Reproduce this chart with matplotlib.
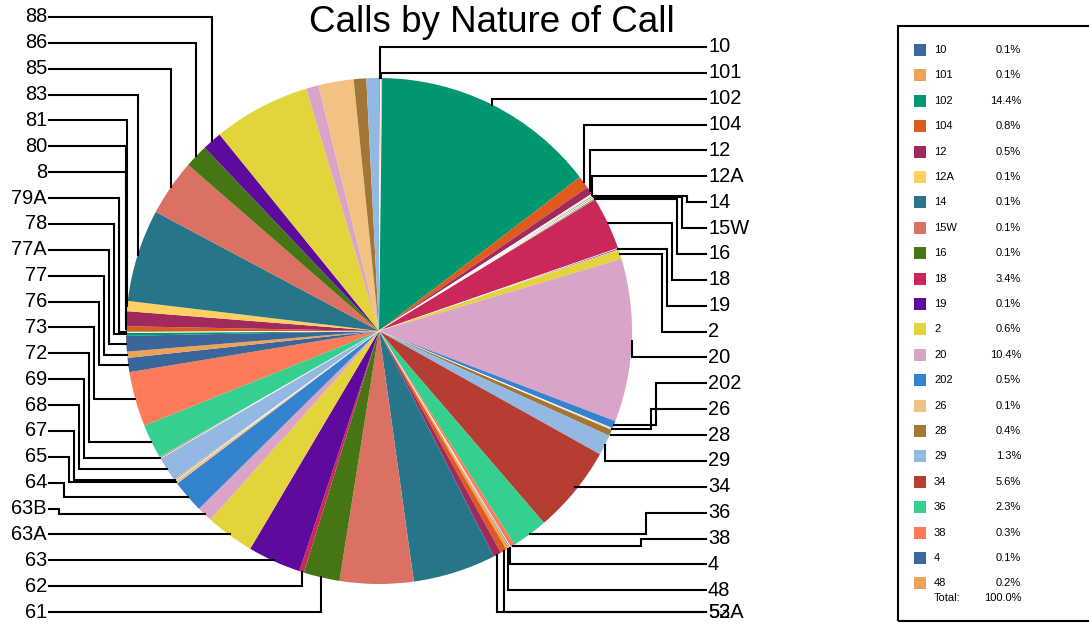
import matplotlib
matplotlib.use("Agg")
import matplotlib.pyplot as plt
import numpy as np
from matplotlib.patches import Rectangle

plt.rcParams['font.family'] = ['Liberation Sans', 'DejaVu Sans']

# ---------------- data ----------------
categories = ["10", "101", "102", "104", "12", "12A", "14", "15W", "16", "18",
              "19", "2", "20", "202", "26", "28", "29", "34", "36", "38",
              "4", "48", "52A", "53", "55", "6",
              "61", "62", "63", "63A", "63B", "64", "65", "67", "68", "69",
              "72", "73", "76", "77", "77A", "78", "79A", "8", "80", "81",
              "83", "85", "86", "88", "89", "9", "90", "91", "96"]
percent = [0.1, 0.1, 14.4, 0.8, 0.5, 0.1, 0.1, 0.1, 0.1, 3.4,
           0.1, 0.6, 10.4, 0.5, 0.1, 0.4, 1.3, 5.6, 2.3, 0.3,
           0.1, 0.2, 0.4, 0.5, 5.3, 4.7,
           2.3, 0.3, 3.4, 3.1, 1.0, 2.1, 0.2, 0.1, 1.6, 0.1,
           2.2, 3.5, 0.9, 0.4, 1.0, 0.2, 0.1, 0.3, 0.95, 0.65,
           5.9, 3.6, 1.5, 1.25, 6.2, 0.8, 2.25, 0.8, 0.8]

right_labels = ["10", "101", "102", "104", "12", "12A", "14", "15W", "16", "18",
                "19", "2", "20", "202", "26", "28", "29", "34", "36", "38",
                "4", "48", "52A", "53"]
left_labels = ["61", "62", "63", "63A", "63B", "64", "65", "67", "68", "69",
               "72", "73", "76", "77", "77A", "78", "79A", "8", "80", "81",
               "83", "85", "86", "88"]
legend_items = categories[:22]
legend_total = "100.0%"
title = "Calls by Nature of Call"

# ---------------- style ----------------
palette = ['#3a6699', '#f0a254', '#009670', '#e05a1e', '#a0295e', '#ffd060',
           '#277589', '#db7163', '#467614', '#c92858', '#5e0a9c', '#e3d43b',
           '#d9a4c8', '#3383ce', '#f2c283', '#a27634', '#93b9e3', '#b63d32',
           '#35cf8f', '#fe7b5a']
color_idx = list(range(20)) + [0, 1, 3, 4, 6, 7,
                               8, 9, 10, 11, 12, 13, 14, 15, 16, 17, 18, 19,
                               0, 1, 0, 2, 8, 3, 4, 5, 6, 7, 8, 10,
                               11, 12, 14, 15, 16]
colors = [palette[i] for i in color_idx]

W, H = 1089, 624
fig = plt.figure(figsize=(W / 100, H / 100), dpi=100)
ax = fig.add_axes([0, 0, 1, 1])

cx, cy, R = 379, H - 331, 253
wedges, _ = ax.pie(percent, colors=colors, startangle=90, counterclock=False,
                   center=(cx, cy), radius=R,
                   wedgeprops=dict(linewidth=0))
for w, v in zip(wedges, percent):
    if v <= 0.1:
        w.set_edgecolor('white')
        w.set_linewidth(0.6)

ax.set_xlim(0, W)
ax.set_ylim(0, H)
ax.set_aspect('equal')
ax.axis('off')

idx = {c: i for i, c in enumerate(categories)}


def edge_point(i):
    w = wedges[i]
    m = np.deg2rad((w.theta1 + w.theta2) / 2)
    return cx + R * np.cos(m), cy + R * np.sin(m)


LW = 1.5
label_fs = 14.4
step = 25.87


def route(px, py, lx, ly, stagger, side):
    """Return the elbow path and whether a stagger slot was used."""
    if abs(ly - py) < 5:
        return [px, lx], [ly, ly], False
    sdir = np.sign(ly - py)
    if sdir * (py - cy) < 0:
        xk = max(stagger, px) if side == 'r' else min(stagger, px)
        return [px, xk, xk, lx], [py, py, ly, ly], True
    return [px, px, lx], [py, ly, ly], False


# right side labels
k = 0
for s, name in enumerate(right_labels):
    slot = min(s, 22)
    ly = H - min(47 + step * slot, 612)
    px, py = edge_point(idx[name])
    xs, ys, used = route(px, py, 706, ly, 687 - 5.1 * k, 'r')
    k += used
    ax.plot(xs, ys, color='black', lw=LW, solid_joinstyle='miter')
    ax.text(708, ly, name, ha='left', va='center', fontsize=label_fs)

# left side labels (bottom to top)
k = 0
for s, name in enumerate(left_labels):
    ly = H - (612 - step * s)
    px, py = edge_point(idx[name])
    xs, ys, used = route(px, py, 49, ly, 59 + 5 * k, 'l')
    k += used
    ax.plot(xs, ys, color='black', lw=LW, solid_joinstyle='miter')
    ax.text(47, ly, name, ha='right', va='center', fontsize=label_fs)

# title
ax.text(492, H - 22, title, ha='center', va='center', fontsize=26.5)

# legend
ax.add_patch(Rectangle((898, H - 621), 400, 621 - 26, fill=False,
                       edgecolor='black', lw=1.5))
for i, name in enumerate(legend_items):
    yy = H - (50 + 25.4 * i)
    ax.add_patch(Rectangle((914, yy - 6), 12, 12, facecolor=colors[idx[name]],
                           edgecolor='none'))
    ax.text(934, yy, name, ha='left', va='center', fontsize=8)
    ax.text(1021, yy, "%.1f%%" % percent[idx[name]], ha='right', va='center',
            fontsize=8)
ax.text(934, H - 598, "Total:", ha='left', va='center', fontsize=8)
ax.text(1022, H - 598, legend_total, ha='right', va='center', fontsize=8)

fig.savefig('out.png', dpi=100)
